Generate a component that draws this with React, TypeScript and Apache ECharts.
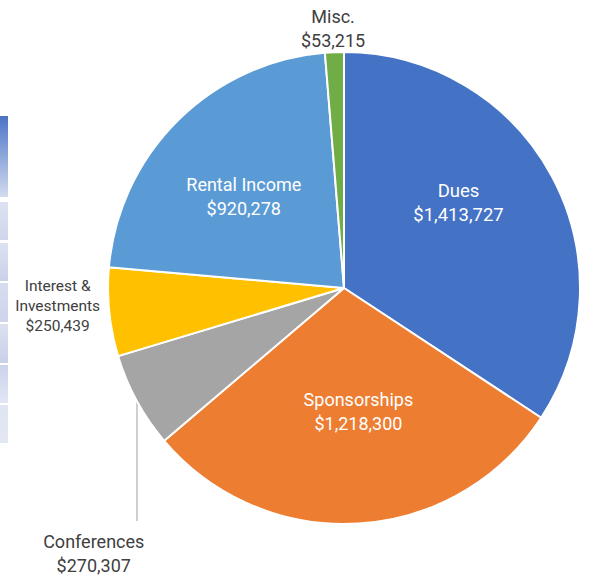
import React, { useEffect, useRef } from "react";
import * as echarts from "echarts";

const categories = ["Dues", "Sponsorships", "Conferences", "Interest &\nInvestments", "Rental Income", "Misc."];
const values = [1413727, 1218300, 270307, 250439, 920278, 53215];
const colors = ["#4472C4", "#ED7D31", "#A5A5A5", "#FFC000", "#5B9BD5", "#70AD47"];
const stripSegments = [
  [116, 197, "#4A74C6", "#D3DBEF"],
  [202, 240, "#DDE2F2", "#D0D7EC"],
  [243, 281, "#DDE2F2", "#C9D1EA"],
  [283, 322, "#D7DDF0", "#CDD4EB"],
  [324, 363, "#DCE1F1", "#C8D0E9"],
  [365, 403, "#CBD3EB", "#E2E6F4"],
  [405, 443, "#E0E5F3", "#E3E7F4"],
];

const fmt = (v: number) => "$" + v.toLocaleString("en-US");

// label styling per slice: inside (white) or outside (grey) with offsets
const labelStyles: any[] = [
  { color: "#ffffff", fontSize: 18.5, lineHeight: 24, offset: [8, -28] },
  { color: "#ffffff", fontSize: 18, lineHeight: 24, offset: [7, 3] },
  { color: "#404040", fontSize: 18, lineHeight: 24, offset: [-144, 208] },
  { color: "#404040", fontSize: 15.5, lineHeight: 20, offset: [-166, 6] },
  { color: "#ffffff", fontSize: 18, lineHeight: 24, offset: [-15, -6] },
  { color: "#404040", fontSize: 18, lineHeight: 24, offset: [-6, -139] },
];

export default function App() {
  const ref = useRef<HTMLDivElement>(null);
  useEffect(() => {
    if (!ref.current) return;
    const chart = echarts.init(ref.current, null, { renderer: "svg" });
    const graphics: any[] = stripSegments.map(([y0, y1, c0, c1]) => ({
      type: "rect",
      shape: { x: 0, y: y0 as number, width: 8, height: (y1 as number) - (y0 as number) },
      style: {
        fill: new echarts.graphic.LinearGradient(0, 0, 0, 1, [
          { offset: 0, color: c0 as string },
          { offset: 1, color: c1 as string },
        ]),
      },
      silent: true,
    }));
    graphics.push({
      type: "line",
      shape: { x1: 137, y1: 399, x2: 137, y2: 521 },
      style: { stroke: "#BFBFBF", lineWidth: 1.5 },
      silent: true,
    });
    chart.setOption({
      animation: false,
      backgroundColor: "#ffffff",
      textStyle: { fontFamily: "Roboto" },
      graphic: graphics,
      series: [
        {
          type: "pie",
          center: [344, 288],
          radius: [0, 236],
          startAngle: 90,
          clockwise: true,
          avoidLabelOverlap: false,
          itemStyle: { borderColor: "#ffffff", borderWidth: 2 },
          labelLine: { show: false },
          data: categories.map((name, i) => ({
            name,
            value: values[i],
            itemStyle: { color: colors[i] },
            label: {
              show: true,
              position: "inside",
              formatter: () => name + "\n" + fmt(values[i]),
              fontFamily: "Roboto",
              fontWeight: "normal",
              align: "center",
              textBorderWidth: 0,
              ...labelStyles[i],
            },
          })),
        },
      ],
    });
    return () => chart.dispose();
  }, []);
  return (
    <div
      ref={ref}
      style={{ position: "fixed", left: 0, top: 0, width: 589, height: 578 }}
    />
  );
}
